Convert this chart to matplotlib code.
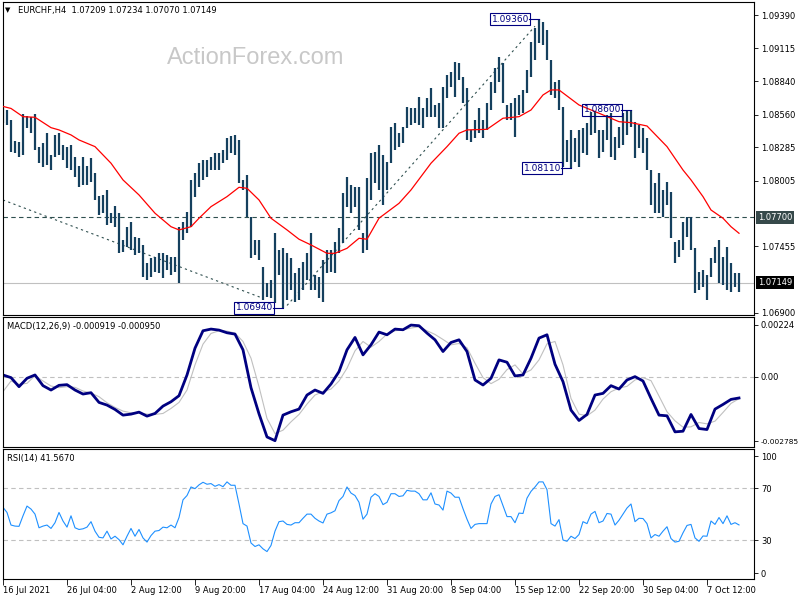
import matplotlib
matplotlib.use('Agg')
import matplotlib.pyplot as plt
import matplotlib.transforms as mtransforms
import numpy as np

plt.rcParams['axes.unicode_minus'] = False

# ---- price bars (one entry per two H4 bars) ----
highs = [
    1.08612, 1.08598, 1.08514, 1.08341, 1.08333, 1.08565, 1.08548, 1.08537, 1.08565, 1.08291,
    1.08319, 1.08403, 1.08221, 1.08389, 1.08403, 1.08305, 1.08291, 1.08305, 1.08207, 1.08129,
    1.08207, 1.08129, 1.08193, 1.08068, 1.07878, 1.07886, 1.07928, 1.07732, 1.07794, 1.07738,
    1.07509, 1.07621, 1.07663, 1.07537, 1.07523, 1.07467, 1.07313, 1.07355, 1.07369, 1.07397,
    1.07397, 1.07383, 1.07369, 1.07369, 1.07621, 1.07663, 1.07746, 1.08012, 1.08068, 1.08151,
    1.08179, 1.08179, 1.08207, 1.08235, 1.08235, 1.08263, 1.08361, 1.08380, 1.08389, 1.08347,
    1.08012, 1.08054, 1.07705, 1.07509, 1.07509, 1.07286, 1.07146, 1.07174, 1.07565, 1.07425,
    1.07439, 1.07397, 1.07355, 1.07230, 1.07272, 1.07327, 1.07397, 1.07565, 1.07216, 1.07202,
    1.07341, 1.07425, 1.07425, 1.07495, 1.07607, 1.07900, 1.08040, 1.07970, 1.07956, 1.07956,
    1.07565, 1.08026, 1.08235, 1.08249, 1.08305, 1.08221, 1.08165, 1.08459, 1.08487, 1.08403,
    1.08459, 1.08626, 1.08612, 1.08612, 1.08710, 1.08612, 1.08696, 1.08780, 1.08640, 1.08654,
    1.08794, 1.08892, 1.08920, 1.09003, 1.08989, 1.08878, 1.08780, 1.08431, 1.08515, 1.08612,
    1.08515, 1.08654, 1.08836, 1.08947, 1.09045, 1.08989, 1.08640, 1.08654, 1.08696, 1.08724,
    1.08766, 1.08934, 1.09171, 1.09283, 1.09360, 1.09338, 1.09269, 1.09017, 1.08836, 1.08850,
    1.08626, 1.08347, 1.08431, 1.08361, 1.08431, 1.08445, 1.08487, 1.08584, 1.08584, 1.08431,
    1.08431, 1.08556, 1.08570, 1.08375, 1.08459, 1.08570, 1.08598, 1.08600, 1.08501, 1.08473,
    1.08445, 1.08361, 1.08096, 1.07984, 1.08068, 1.07928, 1.07998, 1.07914, 1.07495, 1.07509,
    1.07663, 1.07704, 1.07704, 1.07439, 1.07244, 1.07258, 1.07216, 1.07355, 1.07453, 1.07509,
    1.07369, 1.07453, 1.07313, 1.07230, 1.07234,
]
lows = [
    1.08486, 1.08473, 1.08249, 1.08235, 1.08207, 1.08221, 1.08445, 1.08403, 1.08263, 1.08157,
    1.08123, 1.08137, 1.08095, 1.08207, 1.08221, 1.08179, 1.08109, 1.08095, 1.08040, 1.07956,
    1.07970, 1.07970, 1.07998, 1.07844, 1.07718, 1.07732, 1.07635, 1.07649, 1.07621, 1.07397,
    1.07411, 1.07453, 1.07425, 1.07383, 1.07397, 1.07202, 1.07174, 1.07202, 1.07244, 1.07230,
    1.07188, 1.07258, 1.07216, 1.07244, 1.07151, 1.07509, 1.07565, 1.07621, 1.07872, 1.07956,
    1.08012, 1.08040, 1.08096, 1.08096, 1.08096, 1.08151, 1.08179, 1.08235, 1.08221, 1.07984,
    1.07928, 1.07705, 1.07355, 1.07383, 1.07341, 1.07006, 1.07034, 1.07020, 1.06978, 1.07216,
    1.06940, 1.07006, 1.07090, 1.06992, 1.07006, 1.07090, 1.07174, 1.07090, 1.07090, 1.07020,
    1.06992, 1.07230, 1.07244, 1.07230, 1.07397, 1.07481, 1.07788, 1.07732, 1.07788, 1.07593,
    1.07397, 1.07425, 1.07844, 1.07984, 1.07928, 1.07802, 1.07928, 1.08151, 1.08263, 1.08291,
    1.08319, 1.08445, 1.08473, 1.08487, 1.08473, 1.08445, 1.08542, 1.08542, 1.08542, 1.08445,
    1.08445, 1.08696, 1.08794, 1.08710, 1.08850, 1.08654, 1.08347, 1.08333, 1.08361, 1.08403,
    1.08361, 1.08431, 1.08598, 1.08738, 1.08836, 1.08654, 1.08515, 1.08515, 1.08375, 1.08556,
    1.08570, 1.08738, 1.08878, 1.09017, 1.09157, 1.09143, 1.09017, 1.08724, 1.08696, 1.08598,
    1.08123, 1.08165, 1.08110, 1.08165, 1.08123, 1.08235, 1.08221, 1.08389, 1.08403, 1.08193,
    1.08249, 1.08347, 1.08207, 1.08179, 1.08277, 1.08305, 1.08389, 1.08459, 1.08193, 1.08277,
    1.08235, 1.08096, 1.07802, 1.07732, 1.07732, 1.07704, 1.07802, 1.07523, 1.07313, 1.07369,
    1.07425, 1.07537, 1.07425, 1.07062, 1.07090, 1.07118, 1.07006, 1.07202, 1.07313, 1.07146,
    1.07132, 1.07090, 1.07076, 1.07118, 1.07070,
]
last_close = 1.07149

# moving average (red), read at selected bars
ma_idx = [0, 2, 5, 8, 12, 14, 17, 19, 23, 27, 30, 34, 38, 42, 44, 47, 49, 52, 56, 59,
          61, 64, 67, 71, 74, 77, 81, 83, 86, 89, 91, 94, 99, 102, 107, 111, 114, 116, 121, 125,
          129, 132, 135, 137, 139, 144, 149, 154, 157, 161, 166, 170, 172, 175, 177, 180, 182, 184]
ma_vals = [1.08628, 1.08611, 1.08542, 1.08537, 1.08450, 1.08431, 1.08389, 1.08347, 1.08291, 1.08152,
           1.08012, 1.07886, 1.07733, 1.07620, 1.07593, 1.07620, 1.07691, 1.07788, 1.07872, 1.07950,
           1.07942, 1.07844, 1.07691, 1.07593, 1.07515, 1.07467, 1.07397, 1.07397, 1.07439, 1.07523,
           1.07515, 1.07691, 1.07816, 1.07928, 1.08152, 1.08291, 1.08403, 1.08431, 1.08436, 1.08529,
           1.08542, 1.08598, 1.08724, 1.08766, 1.08766, 1.08640, 1.08571, 1.08500, 1.08492, 1.08464,
           1.08291, 1.08095, 1.08012, 1.07872, 1.07760, 1.07691, 1.07620, 1.07565]

# drawn objects
level_line = 1.07700
trend1_idx, trend1_vals = [0, 65], [1.07844, 1.07020]
trend2_idx, trend2_vals = [71, 133], [1.06960, 1.09300]
mark_idx = [70, 134, 142, 157]
mark_vals = [1.06940, 1.09360, 1.08110, 1.08600]

# MACD (every 4th H4 bar)
macd = [
    0.000074, -0.000041, -0.000431, -0.000070, 0.000074, -0.000388, -0.000576, -0.000373, -0.000344, -0.000576,
    -0.000749, -0.000691, -0.001110, -0.001225, -0.001413, -0.001658, -0.001615, -0.001529, -0.001702, -0.001586,
    -0.001269, -0.001081, -0.000821, 0.000074, 0.001230, 0.001980, 0.002053, 0.002009, 0.001894, 0.001836,
    0.001157, -0.000476, -0.001601, -0.002600, -0.002760, -0.001658, -0.001514, -0.001398, -0.000792, -0.000576,
    -0.000720, -0.000316, 0.000219, 0.001157, 0.001692, 0.000941, 0.001374, 0.001923, 0.001807, 0.002053,
    0.002024, 0.002226, 0.002197, 0.001879, 0.001590, 0.001085, 0.001475, 0.001590, 0.001085, -0.000142,
    -0.000359, -0.000070, 0.000724, 0.000623, 0.000031, 0.000074, 0.000796, 0.001663, 0.001807, 0.000536,
    -0.000214, -0.001442, -0.001890, -0.001630, -0.000792, -0.000720, -0.000388, -0.000533, -0.000142, 0.000002,
    -0.000186, -0.000937, -0.001658, -0.001688, -0.002380, -0.002352, -0.001630, -0.002236, -0.002279, -0.001399,
    -0.001197, -0.000980, -0.000919,
]
signal = [
    -0.000648, -0.000186, -0.000330, -0.000287, 0.000045, -0.000186, -0.000402, -0.000474, -0.000431, -0.000460,
    -0.000619, -0.000706, -0.000864, -0.001124, -0.001326, -0.001485, -0.001557, -0.001557, -0.001615, -0.001630,
    -0.001586, -0.001370, -0.001110, -0.000576, 0.000508, 0.001403, 0.001865, 0.001980, 0.001966, 0.001879,
    0.001518, 0.000796, -0.000431, -0.001803, -0.002453, -0.002308, -0.001947, -0.001630, -0.001182, -0.000792,
    -0.000648, -0.000533, -0.000186, 0.000363, 0.001114, 0.001518, 0.001273, 0.001518, 0.001836, 0.001980,
    0.002024, 0.002096, 0.002154, 0.001980, 0.001822, 0.001605, 0.001374, 0.001432, 0.001244, 0.000580,
    -0.000041, -0.000301, -0.000113, 0.000305, 0.000508, 0.000118, 0.000291, 0.000724, 0.001417, 0.001518,
    0.000508, -0.000937, -0.001615, -0.001688, -0.001442, -0.000966, -0.000648, -0.000489, -0.000417, -0.000142,
    -0.000041, -0.000171, -0.000835, -0.001514, -0.001904, -0.002178, -0.002164, -0.001976, -0.002034, -0.001918,
    -0.001543, -0.001153, -0.000950,
]

# RSI(14)
rsi = [
    55.1, 51.2, 41.5, 40.7, 40.5, 48.6, 56.1, 53.8, 49.9, 39.4,
    40.7, 41.5, 38.9, 43.3, 51.2, 44.6, 39.9, 48.6, 39.4, 38.1,
    38.6, 39.9, 44.1, 36.8, 32.1, 31.6, 36.8, 30.8, 32.9, 30.3,
    26.3, 32.9, 38.9, 32.9, 38.1, 31.6, 28.4, 33.4, 36.8, 37.3,
    39.9, 39.4, 41.5, 39.4, 47.3, 60.9, 64.2, 70.8, 69.5, 72.4,
    74.4, 72.9, 73.4, 71.3, 72.6, 71.0, 74.7, 72.1, 72.1, 57.7,
    42.6, 40.7, 27.7, 25.0, 26.3, 23.2, 21.1, 25.8, 36.8, 44.1,
    44.6, 42.0, 41.5, 43.3, 43.3, 46.7, 49.9, 49.9, 46.7, 44.6,
    43.1, 49.9, 50.9, 52.5, 60.3, 63.5, 70.8, 66.1, 64.2, 59.0,
    46.0, 49.9, 62.9, 65.6, 63.5, 57.2, 59.0, 65.6, 65.6, 63.5,
    64.0, 68.2, 67.6, 67.6, 65.6, 60.9, 60.9, 66.3, 57.7, 56.9,
    53.0, 67.6, 66.1, 62.9, 62.9, 54.1, 46.0, 38.9, 42.0, 42.6,
    42.6, 42.6, 57.7, 63.5, 64.8, 56.4, 48.0, 48.0, 43.3, 50.7,
    50.4, 62.2, 67.4, 70.8, 74.7, 74.7, 68.7, 42.6, 40.7, 45.7,
    30.0, 29.0, 32.9, 31.1, 34.2, 44.1, 42.6, 49.9, 52.0, 43.3,
    44.6, 50.4, 49.9, 41.5, 45.2, 49.9, 54.6, 57.7, 44.1, 46.7,
    46.5, 42.6, 31.6, 34.2, 32.9, 36.8, 40.2, 31.1, 28.4, 29.0,
    35.5, 41.2, 42.0, 31.6, 29.0, 33.1, 32.9, 44.6, 42.0, 47.3,
    42.6, 48.6, 42.0, 43.3, 41.6,
]

tick_pos = [0, 16, 32, 48, 64, 80, 96, 112, 128, 144, 160, 176]
tick_labels = ['16 Jul 2021', '26 Jul 04:00', '2 Aug 12:00', '9 Aug 20:00', '17 Aug 04:00',
               '24 Aug 12:00', '31 Aug 20:00', '8 Sep 04:00', '15 Sep 12:00', '22 Sep 20:00',
               '30 Sep 04:00', '7 Oct 12:00']
price_ticks = [1.09390, 1.09115, 1.08840, 1.08560, 1.08285, 1.08005, 1.07455, 1.06900]
macd_ticks = [0.00224, 0.0, -0.002785]
macd_tick_labels = ['0.00224', '0.00', '-0.002785']

BAR_COLOR = '#15405e'
NAVY = '#000080'
W, H = 800.0, 600.0

fig = plt.figure(figsize=(8, 6), dpi=100)


def px_axes(x0, y0, x1, y1):
    return fig.add_axes([x0 / W, 1 - y1 / H, (x1 - x0) / W, (y1 - y0) / H])


ax = px_axes(2.5, 2, 754, 315)
ax_macd = px_axes(2.5, 317, 754, 447)
ax_rsi = px_axes(2.5, 449, 754, 579)

for a in (ax, ax_macd, ax_rsi):
    a.set_xlim(-0.125, 187.75)
    a.yaxis.tick_right()
    a.tick_params(axis='y', direction='out', length=3, width=0.6, labelsize=6, pad=2)
    a.tick_params(axis='x', bottom=False, labelbottom=False)
    for s in a.spines.values():
        s.set_linewidth(0.8)

# ---- main price panel ----
bar_idx = np.arange(len(highs))
ax.axhline(last_close, color='#c0c0c0', lw=0.8, zorder=1)
ax.axhline(level_line, color='#2f4f4f', lw=0.8, ls=(0, (4, 3)), zorder=1)
ax.plot(trend1_idx, trend1_vals, color='#2f4f4f', lw=0.8, ls=(0, (2, 3)), zorder=1)
ax.plot(trend2_idx, trend2_vals, color='#2f4f4f', lw=0.8, ls=(0, (2, 3)), zorder=1)
ax.vlines(bar_idx, lows, highs, color=BAR_COLOR, lw=1.6, zorder=2)
ax.plot(ma_idx, ma_vals, color='red', lw=0.9, zorder=3)

for k, p in zip(mark_idx, mark_vals):
    ax.plot([k - 2.5, k], [p, p], color=NAVY, lw=0.8, zorder=4)
    ax.text(k - 2.5, p, f'{p:.5f}', ha='right', va='center', fontsize=6.5, color=NAVY, zorder=4,
            bbox=dict(boxstyle='square,pad=0.15', fc='none', ec=NAVY, lw=0.8))

ax.set_ylim(1.06880, 1.09503)
ax.set_yticks(price_ticks)
ax.set_yticklabels([f'{v:.5f}' for v in price_ticks])

trans = mtransforms.blended_transform_factory(ax.transAxes, ax.transData)
ax.text(1.005, level_line, f'{level_line:.5f}', transform=trans, fontsize=6, color='white',
        ha='left', va='center', bbox=dict(boxstyle='square,pad=0.25', fc='#36494a', ec='none'))
ax.text(1.005, last_close, f'{last_close:.5f}', transform=trans, fontsize=6, color='white',
        ha='left', va='center', bbox=dict(boxstyle='square,pad=0.25', fc='black', ec='none'))

# ---- MACD panel ----
macd_idx = np.arange(0, len(highs), 2)
ax_macd.axhline(0, color='#c0c0c0', lw=0.8, ls=(0, (4, 3)))
ax_macd.plot(macd_idx, signal, color='#c0c0c0', lw=0.8)
ax_macd.plot(macd_idx, macd, color=NAVY, lw=2.0)
ax_macd.set_ylim(-0.003033, 0.002574)
ax_macd.set_yticks(macd_ticks)
ax_macd.set_yticklabels(macd_tick_labels)
ax_macd.get_yticklabels()[-1].set_fontsize(5.3)

# ---- RSI panel ----
ax_rsi.axhline(70, color='#c0c0c0', lw=0.8, ls=(0, (4, 3)))
ax_rsi.axhline(30, color='#c0c0c0', lw=0.8, ls=(0, (4, 3)))
ax_rsi.plot(bar_idx, rsi, color='#1e90ff', lw=0.8)
ax_rsi.set_ylim(0, 100)
ax_rsi.set_yticks([94.3, 70, 30, 4.6])
ax_rsi.set_yticklabels(['100', '70', '30', '0'])
ax_rsi.set_xticks(tick_pos)
ax_rsi.set_xticklabels(tick_labels)
ax_rsi.tick_params(axis='x', bottom=True, labelbottom=True, direction='out',
                   length=4, width=0.6, labelsize=6, pad=1)
for lab in ax_rsi.get_xticklabels():
    lab.set_ha('left')

# ---- texts ----
fig.text(5 / W, 1 - 10 / H, '\u25bc', fontsize=5, va='center')
fig.text(18 / W, 1 - 10 / H, 'EURCHF,H4  1.07209 1.07234 1.07070 1.07149', fontsize=6, va='center')
fig.text(256 / W, 1 - 58 / H, 'ActionForex.com', fontsize=17, color='#c8c8c8',
         ha='center', va='center', family='Liberation Sans')
fig.text(7 / W, 1 - 326 / H, 'MACD(12,26,9) -0.000919 -0.000950', fontsize=6, va='center')
fig.text(7 / W, 1 - 459 / H, 'RSI(14) 41.5670', fontsize=6, va='center')

fig.savefig('out.png', dpi=100)
